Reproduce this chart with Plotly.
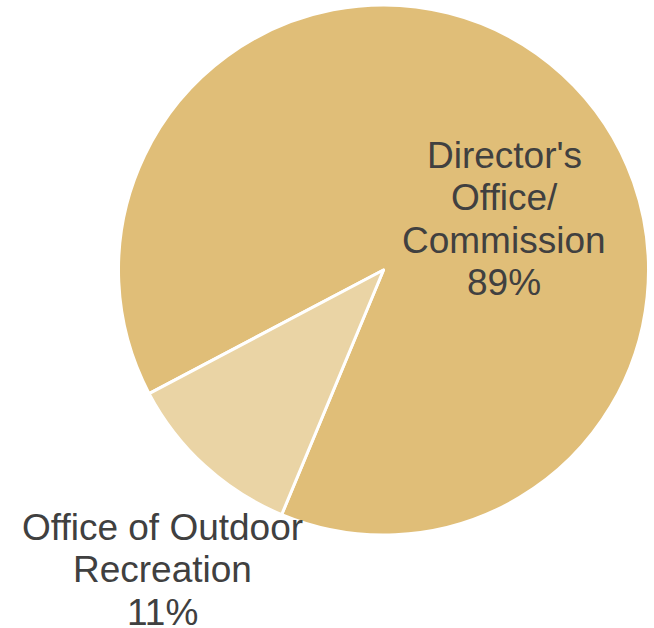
import plotly.graph_objects as go

# Budget share by division
divisions = ["Director's<br>Office/<br>Commission", "Office of Outdoor<br>Recreation"]
shares = [89, 11]
slice_colors = ["#E0BE78", "#EAD4A5"]

W, H = 654, 628
cx, cy, r = 383.5, 270, 265  # pie centre and radius in px

fig = go.Figure(
    go.Pie(
        labels=[d.replace("<br>", " ") for d in divisions],
        values=shares,
        sort=False,
        direction="clockwise",
        rotation=242.2,
        marker=dict(colors=slice_colors, line=dict(color="white", width=3)),
        textinfo="none",
        hoverinfo="label+percent",
        showlegend=False,
        domain=dict(
            x=[(cx - r) / W, (cx + r) / W],
            y=[(H - cy - r) / H, (H - cy + r) / H],
        ),
    )
)

# Slice labels: name lines followed by the percentage, one annotation per line
label_anchor = [(504, 155), (162, 527)]  # px centre of first line
line_step = 42.5
total = sum(shares)
for name, val, (lx, ly) in zip(divisions, shares, label_anchor):
    lines = name.split("<br>") + [f"{round(val / total * 100)}%"]
    for i, line in enumerate(lines):
        fig.add_annotation(
            x=lx / W,
            y=1 - (ly + i * line_step) / H,
            xref="paper",
            yref="paper",
            text=line,
            showarrow=False,
            xanchor="center",
            yanchor="middle",
            font=dict(family="Liberation Sans, Arial", size=37, color="#404040"),
        )

fig.update_layout(
    width=W,
    height=H,
    margin=dict(l=0, r=0, t=0, b=0),
    paper_bgcolor="white",
    plot_bgcolor="white",
)

fig.write_html("out.html")
